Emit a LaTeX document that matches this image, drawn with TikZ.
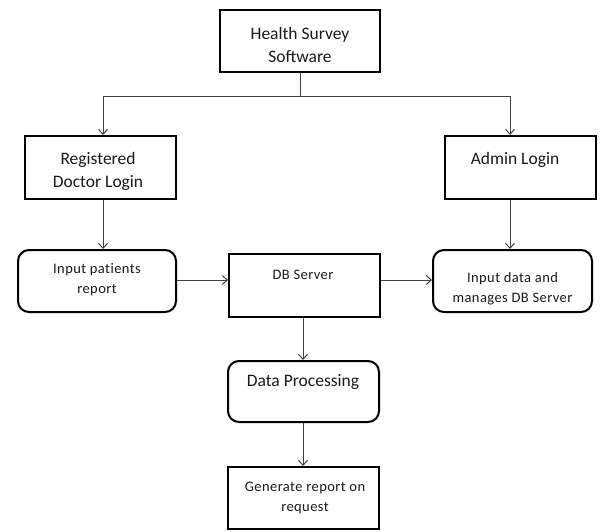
\documentclass[tikz,border=0pt]{standalone}
\usepackage{fontspec}
\setmainfont{Carlito}
\newfontfamily\smallfam[LetterSpace=3,Ligatures={NoCommon}]{Carlito}
\usetikzlibrary{arrows.meta}
\begin{document}
\begin{tikzpicture}[x=1pt,y=-1pt,
  box/.style={draw=black,line width=2pt,inner sep=0pt},
  rbox/.style={box,rounded corners=11pt},
  bigtxt/.style={align=center,inner sep=0pt,font=\fontsize{17.5}{23}\selectfont,text=black!90},
  smalltxt/.style={align=center,inner sep=0pt,font=\smallfam\fontsize{14.5}{19.5}\selectfont,text=black!90},
  arr/.style={draw=black!75,line width=1pt,-{Straight Barb[length=5pt,width=9pt,line width=1pt]}},
  conn/.style={draw=black!75,line width=1pt}]
\useasboundingbox (0,0) rectangle (600,531);
% boxes
\node[box,minimum width=160pt,minimum height=62pt] (hs) at (300,41) {};
\node[bigtxt] (hst) at (300,44.5) {Health Survey\\Software};
\node[box,minimum width=151pt,minimum height=63pt] (reg) at (100.5,167.5) {};
\node[bigtxt] (regt) at (98,171.5) {Registered\\Doctor Login};
\node[box,minimum width=151pt,minimum height=63pt] (adm) at (520.5,167.5) {};
\node[bigtxt] (admt) at (515,160) {Admin Login};
\node[rbox,minimum width=158pt,minimum height=62pt] (inp) at (97,281) {};
\node[smalltxt] (inpt) at (97,279.5) {Input patients\\report};
\node[box,minimum width=151pt,minimum height=63pt] (db) at (304.5,285.5) {};
\node[smalltxt] (dbt) at (303,275) {DB Server};
\node[rbox,minimum width=159pt,minimum height=62pt] (ind) at (512.5,281) {};
\node[smalltxt] (indt) at (512.5,288.5) {Input data and\\manages DB Server};
\node[rbox,minimum width=151pt,minimum height=61pt] (dp) at (303.5,391.5) {};
\node[bigtxt] (dpt) at (303,382) {Data Processing};
\node[box,minimum width=151pt,minimum height=62pt] (gr) at (303.5,498) {};
\node[smalltxt] (grt) at (305,498) {Generate report on\\request};
% helper coordinates
\coordinate (jl) at (103,96);
\coordinate (jr) at (510,96);
\coordinate (h) at (0,280);
\coordinate (v) at (303,0);
% connectors
\draw[arr] (hs.south) |- (jl) -- (jl |- reg.north);
\draw[arr] (hs.south) |- (jr) -- (jr |- adm.north);
\draw[arr] (jl |- reg.south) -- (jl |- inp.north);
\draw[arr] (jr |- adm.south) -- (jr |- ind.north);
\draw[arr] (inp.east |- h) -- (db.west |- h);
\draw[arr] (db.east |- h) -- (ind.west |- h);
\draw[arr] (v |- db.south) -- (v |- dp.north);
\draw[arr] (v |- dp.south) -- (v |- gr.north);
\end{tikzpicture}
\end{document}
